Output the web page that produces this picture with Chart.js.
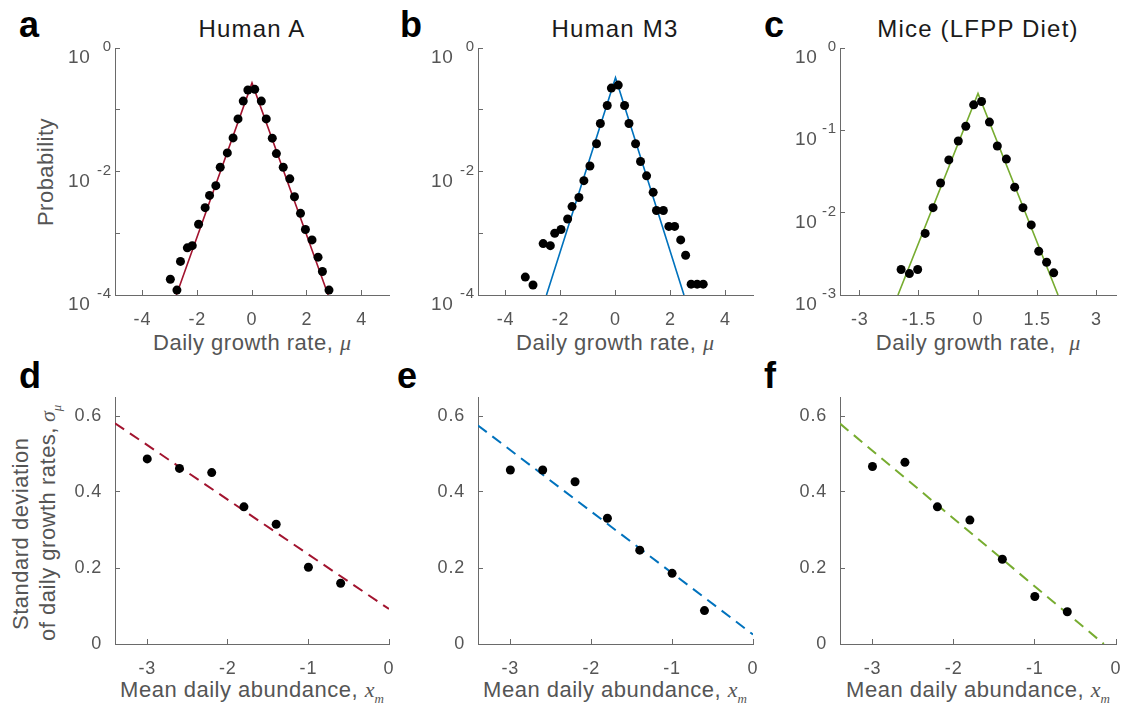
<!DOCTYPE html>
<html>
<head>
  <title>Growth rate distributions</title>
  <script src="https://cdn.jsdelivr.net/npm/chart.js"></script>
  <style>
    body { margin: 0; background: #fff; }
    #fig { position: relative; width: 1122px; height: 708px; overflow: hidden; font-family: "Liberation Sans", Arial, sans-serif; }
    #fig canvas { position: absolute; }
    .lab { position: absolute; line-height: 1; white-space: nowrap; }
    .letter { font-size: 36px; font-weight: bold; color: #000; }
    .title { font-size: 24px; color: #1a1a1a; letter-spacing: 1.2px; transform: translateX(-50%); }
    .axt { font-size: 22px; color: #555; letter-spacing: 0.5px; }
    .cx { transform: translateX(-50%); }
    .rot { transform-origin: 0 0; transform: rotate(-90deg); }
    .rotc { transform: translate(-50%, -50%) rotate(-90deg); }
    .m { font-family: "Liberation Serif", "Times New Roman", serif; font-style: italic; letter-spacing: 0; }
    .sub { font-size: 13px; position: relative; top: 6px; }
  </style>
</head>
<body>
<div id="fig">
  <div class="lab letter" style="left:19px; top:6.5px">a</div>
  <div class="lab letter" style="left:400px; top:6.5px">b</div>
  <div class="lab letter" style="left:764px; top:6.5px">c</div>
  <div class="lab letter" style="left:19px; top:357.5px">d</div>
  <div class="lab letter" style="left:397px; top:357.5px">e</div>
  <div class="lab letter" style="left:764px; top:357.5px">f</div>

  <div class="lab title" style="left:252px; top:16.7px">Human A</div>
  <div class="lab title" style="left:615px; top:16.7px">Human M3</div>
  <div class="lab title" style="left:978px; top:16.7px">Mice (LFPP Diet)</div>

  <div class="lab axt cx" style="left:252px; top:332.4px">Daily growth rate, <span class="m">μ</span></div>
  <div class="lab axt cx" style="left:615px; top:332.4px">Daily growth rate, <span class="m">μ</span></div>
  <div class="lab axt cx" style="left:978px; top:332.4px">Daily growth rate,&nbsp; <span class="m">μ</span></div>

  <div class="lab axt cx" style="left:252px; top:679.4px">Mean daily abundance, <span class="m">x</span><span class="m sub">m</span></div>
  <div class="lab axt cx" style="left:615px; top:679.4px">Mean daily abundance, <span class="m">x</span><span class="m sub">m</span></div>
  <div class="lab axt cx" style="left:978px; top:679.4px">Mean daily abundance, <span class="m">x</span><span class="m sub">m</span></div>

  <div class="lab axt rotc" style="left:46px; top:171.5px">Probability</div>
  <div class="lab axt rot" style="left:10.4px; top:630px">Standard deviation</div>
  <div class="lab axt rot" style="left:37.4px; top:641px">of daily growth rates,&thinsp;<span class="m">σ</span><span class="m sub">μ</span></div>
</div>

<script>
  // panel a: Human A, distribution of daily growth rates
  const muA = [-2.98, -2.74, -2.61, -2.36, -2.18, -1.95, -1.71, -1.55, -1.32, -1.16, -0.90, -0.69, -0.51, -0.32, -0.15,
               0.10, 0.34, 0.52, 0.74, 0.89, 1.14, 1.38, 1.55, 1.77, 1.95, 2.19, 2.41, 2.57, 2.81];
  const probA = [1.8e-4, 1.2e-4, 3.5e-4, 5.8e-4, 6.3e-4, 1.4e-3, 2.6e-3, 4.1e-3, 5.9e-3, 1.17e-2, 2.0e-2, 3.5e-2, 7.1e-2, 0.138, 0.209,
                 0.214, 0.138, 0.071, 0.0347, 0.0195, 0.0117, 0.0076, 0.0039, 0.0021, 0.00115, 7.8e-4, 4.1e-4, 2.4e-4, 1.2e-4];
  const fitMuA = [-2.76, 0, 2.78];
  const fitProbA = [1e-4, 0.272, 1e-4];

  // panel b: Human M3
  const muB = [-3.28, -3.00, -2.63, -2.37, -2.21, -1.98, -1.74, -1.58, -1.33, -1.15, -0.93, -0.69, -0.55, -0.30, -0.15,
               0.10, 0.33, 0.49, 0.73, 0.91, 1.13, 1.37, 1.49, 1.74, 1.94, 2.15, 2.37, 2.55, 2.75, 2.97, 3.19];
  const probB = [1.95e-4, 1.45e-4, 6.8e-4, 6.3e-4, 1.0e-3, 1.15e-3, 1.7e-3, 2.7e-3, 3.8e-3, 7.1e-3, 0.0123, 0.0282, 0.060, 0.117, 0.224,
                 0.251, 0.117, 0.060, 0.0282, 0.0145, 0.0085, 0.0046, 0.00234, 0.00234, 0.00129, 0.00129, 7.8e-4, 4.4e-4, 1.5e-4, 1.5e-4, 1.5e-4];
  const fitMuB = [-2.51, 0, 2.49];
  const fitProbB = [1e-4, 0.33, 1e-4];

  // panel c: Mice (LFPP diet)
  const muC = [-1.95, -1.74, -1.53, -1.34, -1.14, -0.95, -0.74, -0.50, -0.31, -0.11,
               0.09, 0.29, 0.49, 0.72, 0.93, 1.14, 1.35, 1.54, 1.74, 1.92];
  const probC = [2.04e-3, 1.82e-3, 2.04e-3, 5.6e-3, 0.0115, 0.0229, 0.0437, 0.0741, 0.112, 0.204,
                 0.224, 0.126, 0.0646, 0.0447, 0.0204, 0.0115, 0.0071, 0.0034, 0.0025, 0.00186];
  const fitMuC = [-2.03, 0, 2.03];
  const fitProbC = [1e-3, 0.28, 1e-3];

  // panels d-f: std of growth rates vs mean abundance
  const meanAbund = [-3, -2.6, -2.2, -1.8, -1.4, -1.0, -0.6];
  const sdD = [0.487, 0.462, 0.451, 0.361, 0.315, 0.202, 0.160];
  const sdE = [0.458, 0.458, 0.427, 0.331, 0.247, 0.186, 0.088];
  const sdF = [0.467, 0.478, 0.361, 0.326, 0.223, 0.125, 0.085];
  const fitXD = [-3.4, 0], fitSdD = [0.581, 0.092];
  const fitXE = [-3.4, 0], fitSdE = [0.575, 0.025];
  const fitXF = [-3.4, -0.15], fitSdF = [0.58, 0];

  // ticks
  const muTicks = [-4, -2, 0, 2, 4];
  const muTicksC = [-3, -1.5, 0, 1.5, 3];
  const probTicks = [1e-4, 1e-3, 1e-2, 1e-1, 1];
  const probLabelsAB = [1e-4, 1e-2, 1];
  const probTicksC = [1e-3, 1e-2, 1e-1, 1];
  const abundTicks = [-3, -2, -1, 0];
  const sdTicks = [0, 0.2, 0.4, 0.6];

  const RED = '#a2142f', BLUE = '#0072bd', GREEN = '#77ac30';
  const AXIS = '#6a6a6a', TXT = '#555';
  const COLS = [[115, 389], [478, 753], [840, 1116]];
  const ROWS = [[48, 295], [397, 644]];
  const PAD_L = 80, PAD_T = 12, PAD_R = 10, PAD_B = 45;

  Chart.defaults.font.family = '"Liberation Sans", Arial, sans-serif';

  const pts = (xs, ys) => xs.map((x, i) => ({ x: x, y: ys[i] }));

  // keep the plot boxes fixed: no extra room for label overhang
  const fixBox = s => { s.paddingLeft = s.paddingRight = s.paddingTop = s.paddingBottom = 0; };

  // slightly wider lettering, like the original figure
  const spacing = {
    id: 'spacing',
    beforeDraw(chart) { chart.ctx.letterSpacing = '0.8px'; }
  };

  // "10" with a raised exponent at the library's tick positions;
  // base starts at a fixed column, exponent ends at a fixed column (as in the original)
  const logLabels = {
    id: 'logLabels',
    afterDraw(chart, args, opts) {
      if (!opts.values) return;
      const ys = chart.scales.y, ctx = chart.ctx;
      const left = chart.chartArea.left;
      ctx.save();
      ctx.fillStyle = TXT;
      ctx.textBaseline = 'alphabetic';
      opts.values.forEach(v => {
        const py = ys.getPixelForValue(v);
        const exp = String(Math.round(Math.log10(v)));
        ctx.font = '15px "Liberation Sans", Arial, sans-serif';
        ctx.textAlign = 'right';
        ctx.fillText(exp, left - opts.expGap, py + 3);
        ctx.font = '19px "Liberation Sans", Arial, sans-serif';
        ctx.textAlign = 'left';
        ctx.fillText('10', left - opts.baseGap, py + 15);
      });
      ctx.restore();
    }
  };

  function panel(col, row, p) {
    const [l, r] = COLS[col], [t, b] = ROWS[row];
    const c = document.createElement('canvas');
    c.width = r - l + PAD_L + PAD_R;
    c.height = b - t + PAD_T + PAD_B;
    c.style.left = (l - PAD_L) + 'px';
    c.style.top = (t - PAD_T) + 'px';
    document.getElementById('fig').appendChild(c);

    const fit = {
      data: p.fit, showLine: true, borderColor: p.color, borderWidth: p.dash ? 2 : 1.6,
      borderDash: p.dash || [], pointRadius: 0, order: 1
    };
    const dots = {
      data: p.dots, showLine: false, pointRadius: 4.5, pointBackgroundColor: '#000',
      pointBorderWidth: 0, order: 0
    };

    new Chart(c, {
      type: 'scatter',
      data: { datasets: [dots, fit] },
      options: {
        responsive: false, animation: false, events: [],
        layout: { padding: { left: 0, top: PAD_T, right: PAD_R, bottom: 0 } },
        plugins: {
          legend: { display: false }, tooltip: { enabled: false },
          logLabels: { values: p.logLabels, baseGap: p.baseGap, expGap: 3 }
        },
        scales: {
          x: {
            type: 'linear', min: p.xmin, max: p.xmax,
            afterBuildTicks: s => { s.ticks = p.xticks.map(v => ({ value: v })); },
            afterFit: s => { s.height = PAD_B; fixBox(s); },
            ticks: { color: TXT, font: { size: 18 }, padding: 19, maxRotation: 0, callback: v => String(v) },
            grid: { drawOnChartArea: false, tickLength: -5, color: AXIS },
            border: { color: AXIS, width: 1 }
          },
          y: {
            type: p.ylog ? 'logarithmic' : 'linear', min: p.ymin, max: p.ymax,
            afterBuildTicks: s => { s.ticks = p.yticks.map(v => ({ value: v })); },
            afterFit: s => { s.width = PAD_L; fixBox(s); },
            ticks: { color: TXT, font: { size: 18 }, padding: 18, callback: v => p.ylog ? '' : String(v) },
            grid: { drawOnChartArea: false, tickLength: -5, color: AXIS },
            border: { color: AXIS, width: 1 }
          }
        }
      },
      plugins: [spacing, logLabels]
    });
  }

  panel(0, 0, { dots: pts(muA, probA), fit: pts(fitMuA, fitProbA), color: RED, xmin: -5, xmax: 5, xticks: muTicks,
                ylog: true, ymin: 1e-4, ymax: 1, yticks: probTicks, logLabels: probLabelsAB, baseGap: 47 });
  panel(1, 0, { dots: pts(muB, probB), fit: pts(fitMuB, fitProbB), color: BLUE, xmin: -5, xmax: 5, xticks: muTicks,
                ylog: true, ymin: 1e-4, ymax: 1, yticks: probTicks, logLabels: probLabelsAB, baseGap: 47 });
  panel(2, 0, { dots: pts(muC, probC), fit: pts(fitMuC, fitProbC), color: GREEN, xmin: -3.5, xmax: 3.5, xticks: muTicksC,
                ylog: true, ymin: 1e-3, ymax: 1, yticks: probTicksC, logLabels: probTicksC, baseGap: 45 });

  panel(0, 1, { dots: pts(meanAbund, sdD), fit: pts(fitXD, fitSdD), color: RED, dash: [11, 7], xmin: -3.4, xmax: 0,
                xticks: abundTicks, ymin: 0, ymax: 0.65, yticks: sdTicks });
  panel(1, 1, { dots: pts(meanAbund, sdE), fit: pts(fitXE, fitSdE), color: BLUE, dash: [11, 7], xmin: -3.4, xmax: 0,
                xticks: abundTicks, ymin: 0, ymax: 0.65, yticks: sdTicks });
  panel(2, 1, { dots: pts(meanAbund, sdF), fit: pts(fitXF, fitSdF), color: GREEN, dash: [11, 7], xmin: -3.4, xmax: 0,
                xticks: abundTicks, ymin: 0, ymax: 0.65, yticks: sdTicks });
</script>
</body>
</html>
